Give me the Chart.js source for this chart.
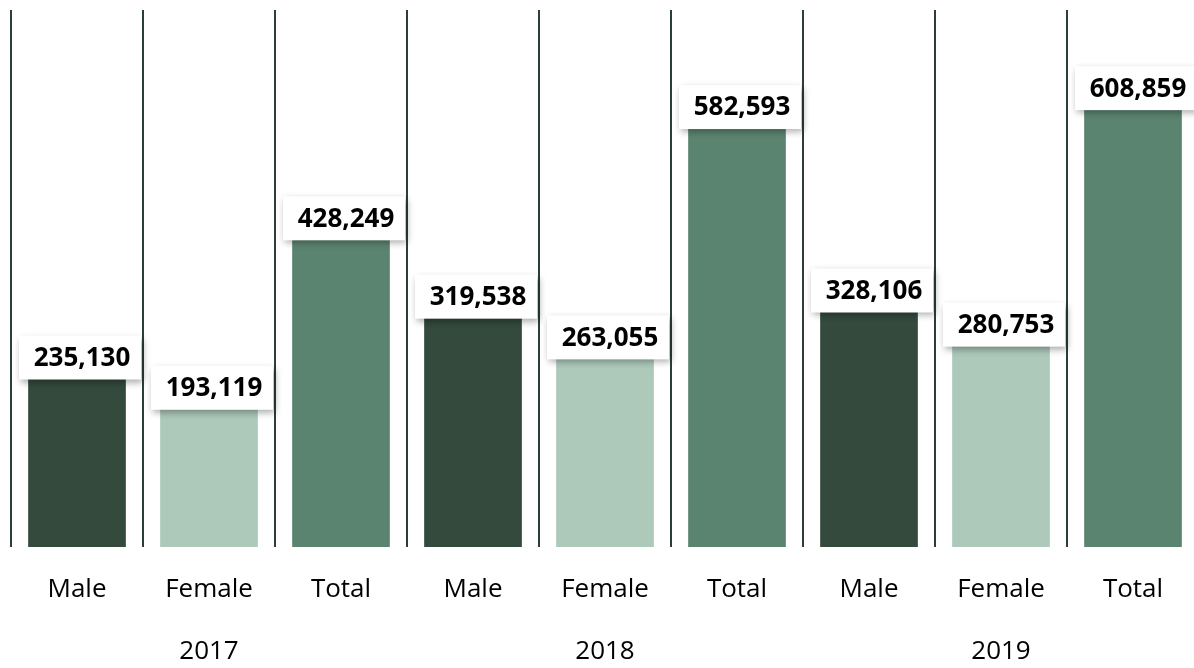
<!DOCTYPE html>
<html lang="en">
<head>
  <meta charset="UTF-8" />
  <title>Male / Female / Total 2017-2019</title>
  <script src="https://cdn.jsdelivr.net/npm/chart.js"></script>
  <style>
    html, body { margin: 0; padding: 0; background: #fff; overflow: hidden; }
    #wrap { width: 1210px; height: 668px; }
  </style>
</head>
<body>
  <div id="wrap"><canvas id="chart" width="1210" height="668"></canvas></div>

  <script>
    const categories = ['Male', 'Female', 'Total', 'Male', 'Female', 'Total', 'Male', 'Female', 'Total'];
    const years = ['', '2017', '', '', '2018', '', '', '2019', ''];
    const values = [235130, 193119, 428249, 319538, 263055, 582593, 328106, 280753, 608859];
    const colors = ['#334a3d', '#adc9ba', '#5b8470', '#334a3d', '#adc9ba', '#5b8470', '#334a3d', '#adc9ba', '#5b8470'];

    // white boxes with shadow above each bar
    const valueBoxes = {
      id: 'valueBoxes',
      afterDatasetsDraw(chart) {
        const ctx = chart.ctx;
        const meta = chart.getDatasetMeta(0);
        ctx.save();
        ctx.font = 'bold 26px "Open Sans"';
        ctx.textAlign = 'center';
        ctx.textBaseline = 'middle';
        meta.data.forEach((bar, i) => {
          const w = 122, h = 44;
          const cx = bar.x + 3;
          const bottom = bar.y + 2;
          ctx.save();
          ctx.shadowColor = 'rgba(0,0,0,0.35)';
          ctx.shadowBlur = 7;
          ctx.shadowOffsetX = 2;
          ctx.shadowOffsetY = 3;
          ctx.fillStyle = '#fff';
          ctx.fillRect(cx - w / 2, bottom - h, w, h);
          ctx.restore();
          ctx.fillStyle = '#000';
          ctx.fillText(values[i].toLocaleString('en-US'), cx + 2, bottom - h / 2 + 1);
        });
        ctx.restore();
      }
    };

    new Chart(document.getElementById('chart'), {
      type: 'bar',
      data: {
        labels: categories.map((c, i) => [c, years[i]]),
        datasets: [{
          data: values,
          backgroundColor: colors,
          borderWidth: 0,
          categoryPercentage: 1,
          barPercentage: 0.74
        }]
      },
      options: {
        responsive: false,
        animation: false,
        layout: { padding: { top: 10, left: 11, right: 11, bottom: 0 } },
        plugins: { legend: { display: false }, tooltip: { enabled: false } },
        scales: {
          x: {
            grid: { offset: true, color: '#2a4034', lineWidth: 2, drawTicks: false },
            border: { display: false },
            ticks: {
              color: '#000',
              padding: 12,
              maxRotation: 0,
              autoSkip: false,
              font: { family: '"Open Sans"', size: 26, lineHeight: 2.38 }
            },
            afterFit(scale) { scale.height = 121; }
          },
          y: { display: false, min: 0, max: 745000 }
        }
      },
      plugins: [valueBoxes]
    });
  </script>
</body>
</html>
